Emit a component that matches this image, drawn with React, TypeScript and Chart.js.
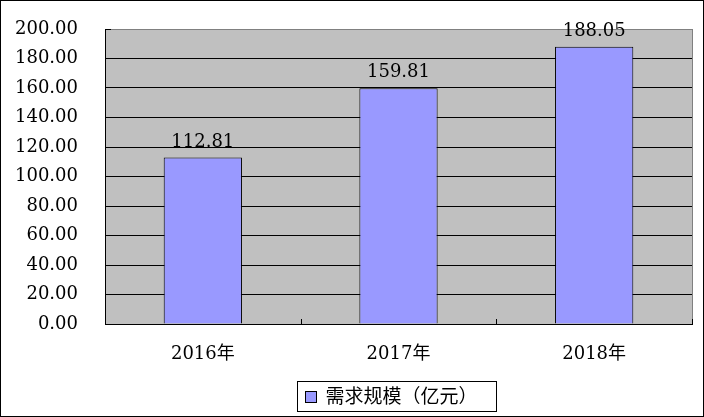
import React, { useEffect, useRef } from "react";
import { Chart, registerables } from "chart.js";

Chart.register(...registerables);

const categories = ["2016年", "2017年", "2018年"];
const seriesName = "需求规模（亿元）";
const seriesValues = [112.81, 159.81, 188.05];
const yMin = 0;
const yMax = 200;
const yStep = 20;

const FONT = "'DejaVu Serif', 'Noto Sans CJK SC', serif";

const decorPlugin = {
  id: "decor",
  beforeDraw(chart: any) {
    const { ctx, chartArea: a, width, height } = chart;
    ctx.save();
    ctx.fillStyle = "#ffffff";
    ctx.fillRect(0, 0, width, height);
    ctx.fillStyle = "#C0C0C0";
    ctx.fillRect(a.left, a.top, a.right - a.left, a.bottom - a.top);
    ctx.restore();
  },
  afterDatasetsDraw(chart: any) {
    const { ctx, chartArea: a, width, height } = chart;
    ctx.save();
    ctx.strokeStyle = "#808080";
    ctx.lineWidth = 1;
    ctx.beginPath();
    ctx.moveTo(Math.round(a.right) + 0.5, a.top);
    ctx.lineTo(Math.round(a.right) + 0.5, a.bottom);
    ctx.stroke();
    ctx.strokeStyle = "#000";
    const n = categories.length;
    for (let i = 0; i <= n; i++) {
      const px = Math.round(a.left + ((a.right - a.left) * i) / n) + 0.5;
      ctx.beginPath();
      ctx.moveTo(px, a.bottom);
      ctx.lineTo(px, a.bottom - 5);
      ctx.stroke();
    }
    ctx.beginPath();
    ctx.moveTo(a.left, Math.round(a.top) + 0.5);
    ctx.lineTo(a.left + 6, Math.round(a.top) + 0.5);
    ctx.stroke();

    const meta = chart.getDatasetMeta(0);
    ctx.fillStyle = "#000";
    ctx.font = `18px ${FONT}`;
    ctx.textAlign = "center";
    ctx.textBaseline = "alphabetic";
    meta.data.forEach((bar: any, i: number) => {
      const v = chart.data.datasets[0].data[i] as number;
      ctx.fillText(v.toFixed(2), bar.x, bar.y - 11);
    });

    const ds = chart.data.datasets[0];
    ctx.font = `19px ${FONT}`;
    const tw = ctx.measureText(ds.label).width;
    const boxW = 8 + 11 + 9 + tw + 19;
    const boxH = 30;
    const cx = (a.left + a.right) / 2 - 2;
    const bx = Math.round(cx - boxW / 2) + 0.5;
    const by = 381.5;
    ctx.strokeStyle = "#000";
    ctx.strokeRect(bx, by, Math.round(boxW), boxH);
    ctx.fillStyle = ds.backgroundColor;
    ctx.fillRect(bx + 8, by + 10, 11, 11);
    ctx.strokeRect(bx + 8, by + 10, 11, 11);
    ctx.fillStyle = "#000";
    ctx.textAlign = "left";
    ctx.textBaseline = "middle";
    ctx.fillText(ds.label, bx + 8 + 11 + 9, by + boxH / 2 + 1.5);

    ctx.strokeStyle = "#000";
    ctx.strokeRect(0.5, 0.5, width - 1, height - 1);
    ctx.restore();
  },
};

export default function App() {
  const ref = useRef<HTMLCanvasElement | null>(null);
  useEffect(() => {
    if (!ref.current) return;
    const chart = new Chart(ref.current, {
      type: "bar",
      data: {
        labels: categories,
        datasets: [
          {
            label: seriesName,
            data: seriesValues,
            backgroundColor: "#9999FF",
            borderColor: "#000000",
            borderWidth: 1,
            categoryPercentage: 1,
            barPercentage: 0.4,
          },
        ],
      },
      options: {
        responsive: false,
        animation: false,
        layout: { padding: { top: 29, right: 12, left: 0, bottom: 0 } },
        plugins: { legend: { display: false }, tooltip: { enabled: false } },
        scales: {
          x: {
            afterFit: (s: any) => {
              s.height = 93;
              s.paddingLeft = 0;
              s.paddingRight = 0;
              s.paddingTop = 0;
              s.paddingBottom = 0;
            },
            grid: { display: false },
            border: { display: true, color: "#000", width: 1 },
            ticks: {
              color: "#000",
              font: { family: FONT, size: 18 },
              padding: 12,
            },
          },
          y: {
            min: yMin,
            max: yMax,
            afterFit: (s: any) => {
              s.width = 105;
              s.paddingLeft = 0;
              s.paddingRight = 0;
              s.paddingTop = 0;
              s.paddingBottom = 0;
            },
            grid: {
              color: (c: any) => (c.tick && c.tick.value === yMax ? "#808080" : "#000"),
              drawTicks: false,
            },
            border: { display: true, color: "#000", width: 1 },
            ticks: {
              stepSize: yStep,
              color: "#000",
              font: { family: FONT, size: 18 },
              padding: 27,
              callback: (v: any) => Number(v).toFixed(2),
            },
          },
        },
      },
      plugins: [decorPlugin],
    });
    return () => chart.destroy();
  }, []);
  return (
    <div style={{ position: "fixed", left: 0, top: 0, width: 704, height: 417 }}>
      <canvas ref={ref} width={704} height={417} style={{ display: "block" }} />
    </div>
  );
}
